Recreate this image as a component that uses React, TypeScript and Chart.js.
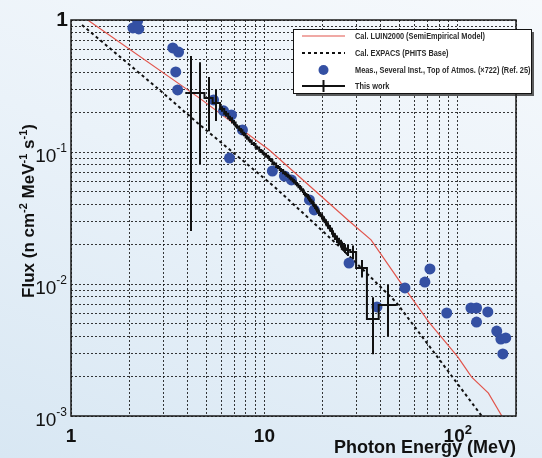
import React, { useEffect, useRef } from "react";
import { Chart, registerables } from "chart.js";

Chart.register(...registerables);

// ---------------- data ----------------
const luinEnergy = [1.22, 4.62, 10.6, 27.4, 35.6, 49.6, 70.9, 100, 118, 144, 169];
const luinFlux = [1.0, 0.256, 0.1035, 0.03, 0.0216, 0.0107, 0.00515, 0.0028, 0.00197, 0.00149, 0.001];

const expacsEnergy = [1.14, 2.87, 4.51, 11.3, 19.2, 25.2, 47.9, 77.1, 133];
const expacsFlux = [0.917, 0.295, 0.166, 0.0543, 0.0266, 0.0184, 0.0073, 0.0029, 0.001];

const measEnergy = [2.21, 2.09, 2.24, 3.36, 3.6, 3.48, 3.56, 5.46, 6.15, 6.76, 7.7, 6.6, 11.0, 12.7, 13.8, 17.1, 18.1, 27.4, 38.2, 53.3, 67.6, 71.8, 87.7, 117, 125, 143, 125, 159, 167, 177, 171];
const measFlux = [0.983, 0.87, 0.855, 0.614, 0.572, 0.404, 0.295, 0.248, 0.205, 0.191, 0.147, 0.09, 0.0718, 0.0658, 0.0614, 0.0433, 0.0364, 0.0144, 0.0067, 0.00933, 0.01035, 0.013, 0.00603, 0.00658, 0.00658, 0.00614, 0.00515, 0.0044, 0.00383, 0.0039, 0.00295];

const workBinEdges = [
  3.9, 4.45, 4.9, 5.4,
  5.9, 6.2, 6.5, 6.8, 7.1, 7.4, 7.7, 8.0, 8.3, 8.6, 9.0, 9.4, 9.8, 10.2, 10.6, 11.0,
  11.5, 12.0, 12.5, 13.0, 13.5, 14.0, 14.5, 15.0, 15.5, 16.0, 16.5, 17.0, 17.5, 18.0, 18.5, 19.0,
  19.5, 20.0, 20.5, 21.0, 21.5, 22.0, 22.5, 23.0, 23.5, 24.0, 24.5, 25.0, 25.5, 26.0, 26.5,
  27.8, 29.8, 33.9, 39.0, 48.4,
];
const workFlux = [
  0.28, 0.28, 0.257, 0.235,
  0.212, 0.195, 0.18, 0.167, 0.156, 0.146, 0.137, 0.129, 0.122, 0.115, 0.108, 0.102, 0.097, 0.092, 0.087,
  0.082, 0.077, 0.073, 0.069, 0.066, 0.063, 0.06, 0.057, 0.054, 0.051, 0.048, 0.046, 0.0435, 0.041, 0.0388, 0.0366,
  0.0345, 0.0326, 0.031, 0.0293, 0.0278, 0.0265, 0.0252, 0.024, 0.0229, 0.0219, 0.021, 0.0202, 0.0196, 0.019, 0.0186,
  0.0181, 0.0175, 0.0132, 0.00543, 0.00693,
];
const workRelErr = [
  0.91, 0.71, 0.44, 0.27,
  0.05, 0.05, 0.045, 0.045, 0.04, 0.04, 0.04, 0.04, 0.035, 0.035, 0.035, 0.035, 0.035, 0.035, 0.035,
  0.035, 0.035, 0.035, 0.035, 0.035, 0.035, 0.04, 0.04, 0.04, 0.04, 0.04, 0.045, 0.045, 0.045, 0.045, 0.05,
  0.05, 0.05, 0.05, 0.055, 0.055, 0.055, 0.06, 0.06, 0.06, 0.065, 0.065, 0.07, 0.07, 0.075, 0.075,
  0.1, 0.12, 0.15, 0.46, 0.42,
];

const xTickLabels = [
  { value: 1, base: "1", sup: "" },
  { value: 10, base: "10", sup: "" },
  { value: 100, base: "10", sup: "2" },
];
const yTickLabels = [
  { value: 1, base: "1", sup: "" },
  { value: 0.1, base: "10", sup: "-1" },
  { value: 0.01, base: "10", sup: "-2" },
  { value: 0.001, base: "10", sup: "-3" },
];

const legendLabels = [
  "Cal. LUIN2000 (SemiEmpirical Model)",
  "Cal. EXPACS (PHITS Base)",
  "Meas., Several Inst., Top of Atmos. (\u00d7722) (Ref. 25)",
  "This work",
];
const xTitle = "Photon Energy (MeV)";
const yTitleParts: [string, boolean][] = [
  ["Flux (n cm", false],
  ["-2", true],
  [" MeV", false],
  ["-1", true],
  [" s", false],
  ["-1", true],
  [")", false],
];

// ---------------- styling ----------------
const RED = "#e2554c";
const BLACK = "#111111";
const BLUE = "#3450a3";
const FONT = "'Liberation Sans', Arial, Helvetica, sans-serif";

const decadeGrid = (lo: number, hi: number) => {
  const out: number[] = [];
  for (let d = lo; d <= hi; d *= 10) for (let m = 1; m <= 9; m++) out.push(+(m * d).toPrecision(3));
  return out;
};
const xGrid = decadeGrid(1, 100).filter((v) => v <= 200);
const yGrid = decadeGrid(0.001, 0.1).concat([1]);

const decoPlugin = {
  id: "deco",
  afterDatasetsDraw(chart: any) {
    const { ctx, chartArea: a, scales } = chart;
    const x = scales.x;
    const y = scales.y;
    ctx.save();
    ctx.beginPath();
    ctx.rect(a.left, a.top, a.right - a.left, a.bottom - a.top);
    ctx.clip();
    ctx.strokeStyle = BLACK;
    ctx.lineWidth = 2;
    for (let i = 0; i < workFlux.length; i++) {
      const e = Math.sqrt(workBinEdges[i] * workBinEdges[i + 1]);
      const f = workFlux[i];
      const r = workRelErr[i];
      const px = Math.round(x.getPixelForValue(e));
      ctx.beginPath();
      ctx.moveTo(px, y.getPixelForValue(f * (1 + r)));
      ctx.lineTo(px, y.getPixelForValue(Math.max(f * (1 - r), 1e-4)));
      ctx.stroke();
    }
    ctx.restore();
  },
  afterDraw(chart: any) {
    const { ctx, chartArea: a, scales } = chart;
    const x = scales.x;
    const y = scales.y;
    ctx.save();
    // frame
    ctx.strokeStyle = "#1a1a1a";
    ctx.lineWidth = 1.5;
    ctx.strokeRect(a.left, a.top, a.right - a.left, a.bottom - a.top);

    ctx.fillStyle = "#111";
    ctx.textBaseline = "alphabetic";
    // x tick labels
    for (const t of xTickLabels) {
      const px = x.getPixelForValue(t.value);
      ctx.font = `bold 19px ${FONT}`;
      const bw = ctx.measureText(t.base).width;
      ctx.font = `bold 13px ${FONT}`;
      const sw = t.sup ? ctx.measureText(t.sup).width : 0;
      const start = px - (bw + sw) / 2;
      ctx.font = `bold 19px ${FONT}`;
      ctx.textAlign = "left";
      ctx.fillText(t.base, start, a.bottom + 26);
      if (t.sup) {
        ctx.font = `bold 13px ${FONT}`;
        ctx.fillText(t.sup, start + bw, a.bottom + 18);
      }
    }
    // y tick labels
    for (const t of yTickLabels) {
      const py = y.getPixelForValue(t.value);
      const right = 67;
      if (!t.sup) {
        ctx.font = `bold 21px ${FONT}`;
        ctx.textAlign = "right";
        ctx.fillText(t.base, right + 1, py + 6);
        continue;
      }
      ctx.font = `12px ${FONT}`;
      const sw = ctx.measureText(t.sup).width;
      ctx.textAlign = "right";
      ctx.fillText(t.sup, right, py);
      ctx.font = `19px ${FONT}`;
      ctx.fillText(t.base, right - sw, py + 9.5);
    }
    // x title
    ctx.font = `bold 18px ${FONT}`;
    ctx.textAlign = "right";
    ctx.fillText(xTitle, a.right, 453);
    // y title
    ctx.save();
    ctx.translate(34, 211);
    ctx.rotate(-Math.PI / 2);
    let total = 0;
    for (const [s, sup] of yTitleParts) {
      ctx.font = sup ? `bold 11px ${FONT}` : `bold 17px ${FONT}`;
      total += ctx.measureText(s).width;
    }
    let cx = -total / 2;
    ctx.textAlign = "left";
    for (const [s, sup] of yTitleParts) {
      ctx.font = sup ? `bold 11px ${FONT}` : `bold 17px ${FONT}`;
      ctx.fillText(s, cx, sup ? -7 : 0);
      cx += ctx.measureText(s).width;
    }
    ctx.restore();

    // legend
    const lx = 293, ly = 29, lw = 238, lh = 64;
    ctx.fillStyle = "rgba(40,40,40,0.75)";
    ctx.fillRect(lx + 3, ly + 3, lw, lh);
    ctx.fillStyle = "#ffffff";
    ctx.fillRect(lx, ly, lw, lh);
    ctx.strokeStyle = "#111";
    ctx.lineWidth = 1;
    ctx.strokeRect(lx + 0.5, ly + 0.5, lw, lh);
    const rows = [36, 53, 70, 86];
    const x0 = 302, x1 = 345, xm = 323.5;
    ctx.strokeStyle = RED;
    ctx.lineWidth = 1.2;
    ctx.beginPath(); ctx.moveTo(x0, rows[0]); ctx.lineTo(x1, rows[0]); ctx.stroke();
    ctx.strokeStyle = BLACK;
    ctx.lineWidth = 2;
    ctx.setLineDash([3, 3]);
    ctx.beginPath(); ctx.moveTo(x0, rows[1]); ctx.lineTo(x1, rows[1]); ctx.stroke();
    ctx.setLineDash([]);
    ctx.fillStyle = BLUE;
    ctx.beginPath(); ctx.arc(xm, rows[2], 5, 0, Math.PI * 2); ctx.fill();
    ctx.strokeStyle = BLACK;
    ctx.lineWidth = 2;
    ctx.beginPath(); ctx.moveTo(x0, rows[3]); ctx.lineTo(x1, rows[3]); ctx.stroke();
    ctx.beginPath(); ctx.moveTo(xm, rows[3] - 6); ctx.lineTo(xm, rows[3] + 6); ctx.stroke();
    // condensed legend text
    ctx.fillStyle = "#2a2a2a";
    ctx.font = `bold 9px ${FONT}`;
    ctx.textAlign = "left";
    ctx.textBaseline = "middle";
    const w0 = ctx.measureText(legendLabels[0]).width;
    const sx = 130 / w0;
    legendLabels.forEach((s, i) => {
      ctx.save();
      ctx.translate(355, rows[i] + 0.5);
      ctx.scale(sx, 1);
      ctx.fillText(s, 0, 0);
      ctx.restore();
    });
    ctx.restore();
  },
};

export default function App() {
  const ref = useRef<HTMLCanvasElement | null>(null);
  useEffect(() => {
    if (!ref.current) return;
    const stepPts: { x: number; y: number }[] = [];
    for (let i = 0; i < workFlux.length; i++) {
      stepPts.push({ x: workBinEdges[i], y: workFlux[i] }, { x: workBinEdges[i + 1], y: workFlux[i] });
    }
    const chart = new Chart(ref.current, {
      type: "scatter",
      data: {
        datasets: [
          {
            label: legendLabels[3],
            data: stepPts,
            showLine: true,
            borderColor: BLACK,
            borderWidth: 2,
            pointRadius: 0,
            order: 0,
          },
          {
            label: legendLabels[2],
            data: measEnergy.map((e, i) => ({ x: e, y: measFlux[i] })),
            showLine: false,
            pointRadius: 5.5,
            pointBackgroundColor: BLUE,
            pointBorderColor: BLUE,
            pointBorderWidth: 0,
            order: 1,
          },
          {
            label: legendLabels[1],
            data: expacsEnergy.map((e, i) => ({ x: e, y: expacsFlux[i] })),
            showLine: true,
            borderColor: BLACK,
            borderWidth: 2,
            borderDash: [3, 3],
            pointRadius: 0,
            order: 2,
          },
          {
            label: legendLabels[0],
            data: luinEnergy.map((e, i) => ({ x: e, y: luinFlux[i] })),
            showLine: true,
            borderColor: RED,
            borderWidth: 1.2,
            pointRadius: 0,
            order: 3,
          },
        ],
      },
      options: {
        animation: false,
        responsive: false,
        devicePixelRatio: 1,
        events: [],
        layout: { autoPadding: false, padding: { left: 71, top: 20, right: 26, bottom: 42 } },
        plugins: { legend: { display: false }, tooltip: { enabled: false } },
        scales: {
          x: {
            type: "logarithmic",
            min: 1,
            max: 200,
            afterBuildTicks: (s: any) => { s.ticks = xGrid.map((v) => ({ value: v })); },
            ticks: { display: false },
            grid: { color: "rgba(20,20,20,0.85)", lineWidth: 1, drawTicks: false },
            border: { display: false, dash: [2, 2] },
          },
          y: {
            type: "logarithmic",
            min: 0.001,
            max: 1,
            afterBuildTicks: (s: any) => { s.ticks = yGrid.map((v) => ({ value: v })); },
            ticks: { display: false },
            grid: { color: "rgba(20,20,20,0.85)", lineWidth: 1, drawTicks: false },
            border: { display: false, dash: [2, 2] },
          },
        },
      },
      plugins: [decoPlugin],
    } as any);
    return () => chart.destroy();
  }, []);
  return (
    <div
      style={{
        position: "absolute",
        left: 0,
        top: 0,
        width: 542,
        height: 458,
        background: "linear-gradient(200deg, #f6f9fc 0%, #eaf2f9 45%, #d8e7f3 100%)",
      }}
    >
      <canvas ref={ref} width={542} height={458} style={{ display: "block", width: 542, height: 458 }} />
    </div>
  );
}
